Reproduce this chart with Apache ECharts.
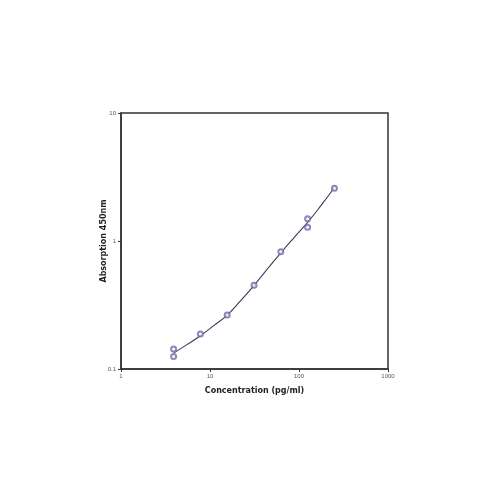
<!DOCTYPE html>
<html>
<head>
<meta charset="utf-8">
<script src="https://cdn.jsdelivr.net/npm/echarts@6/dist/echarts.min.js"></script>
<style>
  html, body { margin: 0; padding: 0; background: #fff; }
  #chart { width: 500px; height: 500px; }
</style>
</head>
<body>
<div id="chart"></div>
<script>
// standard points (pg/ml, OD 450nm), duplicates per concentration
var concentration = [3.9, 3.9, 7.8, 15.6, 31.25, 62.5, 125, 125, 250];
var absorption = [0.143, 0.125, 0.188, 0.264, 0.451, 0.825, 1.49, 1.28, 2.58];

// fitted curve
var curveX = [3.9, 5.5, 7.8, 11, 15.6, 22, 31.25, 44, 62.5, 88, 125, 177, 250];
var curveY = [0.133, 0.155, 0.182, 0.218, 0.264, 0.34, 0.45, 0.604, 0.809, 1.064, 1.4, 1.897, 2.62];

var xTicks = ['1', '10', '100', '1000'];
var yTicks = ['0.1', '1', '10'];

var chart = echarts.init(document.getElementById('chart'));

var pts = concentration.map(function(c, i){ return [c, absorption[i]]; });
var fit = curveX.map(function(c, i){ return [c, curveY[i]]; });

var axisText = { fontSize: 6, color: '#555', fontFamily: 'Liberation Sans' };

chart.setOption({
  animation: false,
  grid: { left: 121, right: 112, top: 113, bottom: 131, show: true, borderColor: '#333', borderWidth: 1.5 },
  xAxis: {
    type: 'log', logBase: 10, min: 1, max: 1000,
    name: 'Concentration (pg/ml)', nameLocation: 'middle', nameGap: 18,
    nameMoveOverlap: false,
    nameTextStyle: { fontSize: 8, fontWeight: 'bold', color: '#222', fontFamily: 'DejaVu Sans' },
    axisLine: { show: true, lineStyle: { color: '#333', width: 1.5 } },
    axisTick: { show: true, inside: false, length: 3, lineStyle: { color: '#333' } },
    minorTick: { show: false },
    splitLine: { show: false },
    axisLabel: Object.assign({ margin: 4, formatter: function(v){ return xTicks[Math.round(Math.log10(v))]; } }, axisText)
  },
  yAxis: {
    type: 'log', logBase: 10, min: 0.1, max: 10,
    name: 'Absorption 450nm', nameLocation: 'middle', nameGap: 13, nameRotate: 90,
    nameMoveOverlap: false,
    nameTextStyle: { fontSize: 8, fontWeight: 'bold', color: '#222', fontFamily: 'DejaVu Sans' },
    axisLine: { show: true, lineStyle: { color: '#333', width: 1.5 } },
    axisTick: { show: true, inside: false, length: 3, lineStyle: { color: '#333' } },
    splitLine: { show: false },
    axisLabel: Object.assign({ margin: 5, formatter: function(v){ return yTicks[Math.round(Math.log10(v)) + 1]; } }, axisText)
  },
  series: [
    {
      type: 'line', data: fit, smooth: 0.5, showSymbol: false,
      lineStyle: { color: '#3c3c5a', width: 1.1 }, z: 2
    },
    {
      type: 'scatter', data: pts, symbol: 'emptyCircle', symbolSize: 5,
      itemStyle: { color: '#6a6aa8', borderColor: '#6a6aa8', borderWidth: 0.8 }, z: 3
    }
  ]
});
</script>
</body>
</html>
